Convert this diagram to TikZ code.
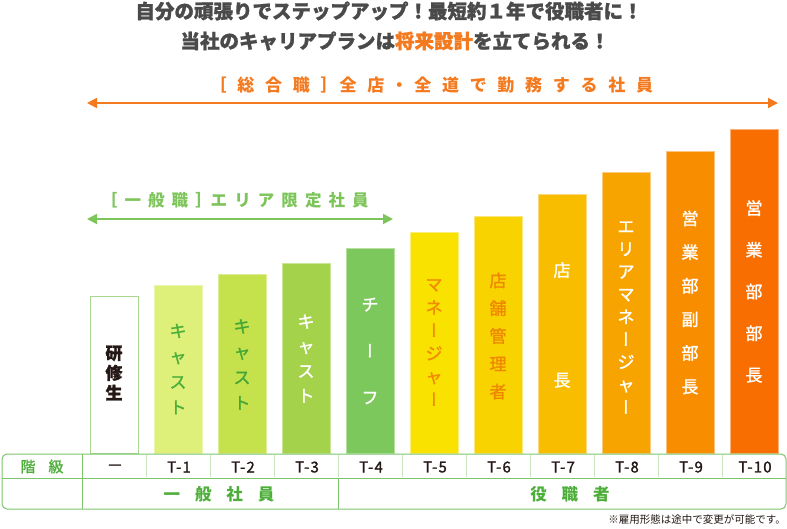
\documentclass[tikz,border=0pt]{standalone}
\usepackage{fontspec}
\setmainfont{Noto Sans CJK JP}
\newfontfamily\jpv[RawFeature=+vert, FakeBold=1.4]{Noto Sans CJK JP}
\newfontfamily\jpmid[FakeBold=1.4]{Noto Sans CJK JP}
\newfontfamily\jphalt[RawFeature=+halt]{Noto Sans CJK JP}
\newcommand\vbar{{\jpv ー}}
\usetikzlibrary{arrows.meta}

\definecolor{ink}{HTML}{231815}
\definecolor{headgray}{HTML}{4A4A4A}
\definecolor{accent}{HTML}{F47A1F}
\definecolor{leaf}{HTML}{7DC55A}
\definecolor{leaftext}{HTML}{4DAF3A}
\definecolor{tblgreen}{HTML}{7CC46A}
\definecolor{tblpale}{HTML}{C9E7BE}
% bar fills, borders and label colours
\definecolor{bar0}{HTML}{FFFFFF} \definecolor{bdr0}{HTML}{A8D88F} \definecolor{txt0}{HTML}{231815}
\definecolor{bar1}{HTML}{DFF07A} \definecolor{bdr1}{HTML}{EAF6AE} \definecolor{txt1}{HTML}{4CAF3A}
\definecolor{bar2}{HTML}{C5E24C} \definecolor{bdr2}{HTML}{DCEE98} \definecolor{txt2}{HTML}{45A736}
\definecolor{bar3}{HTML}{A4D24B} \definecolor{bdr3}{HTML}{C9E597} \definecolor{txt3}{HTML}{FFFFFF}
\definecolor{bar4}{HTML}{7DC85C} \definecolor{bdr4}{HTML}{B5E0A2} \definecolor{txt4}{HTML}{FFFFFF}
\definecolor{bar5}{HTML}{F9E100} \definecolor{bdr5}{HTML}{FBEE80} \definecolor{txt5}{HTML}{F08C00}
\definecolor{bar6}{HTML}{F8D300} \definecolor{bdr6}{HTML}{FBE680} \definecolor{txt6}{HTML}{EE8800}
\definecolor{bar7}{HTML}{F9BD00} \definecolor{bdr7}{HTML}{FCDB80} \definecolor{txt7}{HTML}{FFFFFF}
\definecolor{bar8}{HTML}{F8A400} \definecolor{bdr8}{HTML}{FBCD80} \definecolor{txt8}{HTML}{FFFFFF}
\definecolor{bar9}{HTML}{F98D00} \definecolor{bdr9}{HTML}{FCC280} \definecolor{txt9}{HTML}{FFFFFF}
\definecolor{bar10}{HTML}{F96E00} \definecolor{bdr10}{HTML}{FCB27A} \definecolor{txt10}{HTML}{FFFFFF}

\tikzset{
  headline/.style={font=\fontsize{19.5}{22}\selectfont\bfseries\addfontfeature{FakeBold=1.2}, text=headgray, inner sep=0pt},
  tblline/.style={draw=tblgreen, line width=1pt},
  tblthin/.style={draw=tblpale, line width=1pt},
  grade/.style={font=\jpmid\fontsize{15}{17}\selectfont\addfontfeature{LetterSpace=8}, text=ink, inner sep=0pt},
  rank/.style={font=\fontsize{16.5}{18}\selectfont\bfseries\addfontfeature{LetterSpace=90}, text=leaftext, inner sep=0pt}
}

\begin{document}
\begin{tikzpicture}[x=1pt, y=-1pt, >={Triangle[length=10pt,width=10pt]}]
  \useasboundingbox (0,0) rectangle (787,528);

  % headline
  \node[headline] (head1) at (389,11) {自分の頑張りでステップアップ！最短約１年で役職者に！};
  \node[headline] (head2) at (395,41) {当社のキャリアプランは\textcolor{accent}{将来設計}を立てられる！};

  % range arrows
  \coordinate (allL) at (87,103);
  \coordinate (allR) at (778,103);
  \draw[<->, accent, line width=1.8pt] (allL) -- (allR);
  \node[anchor=west, font=\jphalt\fontsize{17}{20}\selectfont\bfseries\addfontfeature{LetterSpace=63}, text=accent, inner sep=0pt]
    (allLbl) at (218,85) {［総合職］全店・全道で勤務する社員};

  \coordinate (areaL) at (87,219);
  \coordinate (areaR) at (393,219);
  \draw[<->, leaf, line width=1.8pt] (areaL) -- (areaR);
  \node[anchor=west, font=\jphalt\fontsize{16.5}{19}\selectfont\bfseries\addfontfeature{LetterSpace=43}, text=leaf, inner sep=0pt]
    (areaLbl) at (109,200) {［一般職］エリア限定社員};

  % bars
  \foreach \i/\top/\mid/\pitch/\wt/\lbl in {
      0/296/373/20/\bfseries/研\\修\\生,
      1/285/369/25.5/\mdseries/キ\\ャ\\ス\\ト,
      2/274/364.5/25.5/\mdseries/キ\\ャ\\ス\\ト,
      3/263/358.5/24.7/\mdseries/キ\\ャ\\ス\\ト,
      4/248/351/46.5/\mdseries/チ\\\vbar\\フ,
      5/232/342.5/23/\mdseries/マ\\ネ\\\vbar\\ジ\\ャ\\\vbar,
      6/216/336/27.8/\mdseries/店\\舗\\管\\理\\者,
      7/194/325/110/\mdseries/店\\長,
      8/172/317.5/22.6/\mdseries/エ\\リ\\ア\\マ\\ネ\\\vbar\\ジ\\ャ\\\vbar,
      9/151/302.5/33.6/\mdseries/営\\業\\部\\副\\部\\長,
      10/129/291.5/41.7/\mdseries/営\\業\\部\\部\\長} {
    \pgfmathsetmacro\cx{114+64*\i}
    \draw[fill=bar\i, draw=bdr\i, line width=1pt] (\cx-24,453) rectangle (\cx+24,\top);
    \node[font=\jpmid\fontsize{17}{\pitch}\selectfont\wt, text=txt\i, align=center, inner sep=0pt]
      (job\i) at (\cx,\mid) {\lbl};
  }

  % grade table
  \fill[white, rounded corners=5pt] (2,454) rectangle (786,509);
  \foreach \i in {1,...,10}
    \draw[tblthin] ({82+64*\i},455) -- ({82+64*\i},477);
  \draw[tblline, rounded corners=5pt] (2,454) rectangle (786,509);
  \draw[tblline] (2,478) -- (786,478);
  \draw[tblline] (82,454) -- (82,509);
  \draw[tblline] (338,478) -- (338,509);

  \node[font=\jpmid\fontsize{15}{17}\selectfont, text=leaftext, inner sep=0pt] (kaikyu) at (42,466.5) {階\hspace{13pt}級};
  \foreach \i/\g in {0/—,1/T-1,2/T-2,3/T-3,4/T-4,5/T-5,6/T-6,7/T-7,8/T-8,9/T-9,10/T-10}
    \node[grade] (g\i) at ({115+64*\i},467) {\g};
  \node[rank] (rankA) at (219,494) {一般社員};
  \node[rank] (rankB) at (570,494) {役職者};

  % footnote
  \node[anchor=east, font=\fontsize{10.5}{12}\selectfont, text=ink, inner sep=0pt] (note) at (786,520) {※雇用形態は途中で変更が可能です。};
\end{tikzpicture}
\end{document}
